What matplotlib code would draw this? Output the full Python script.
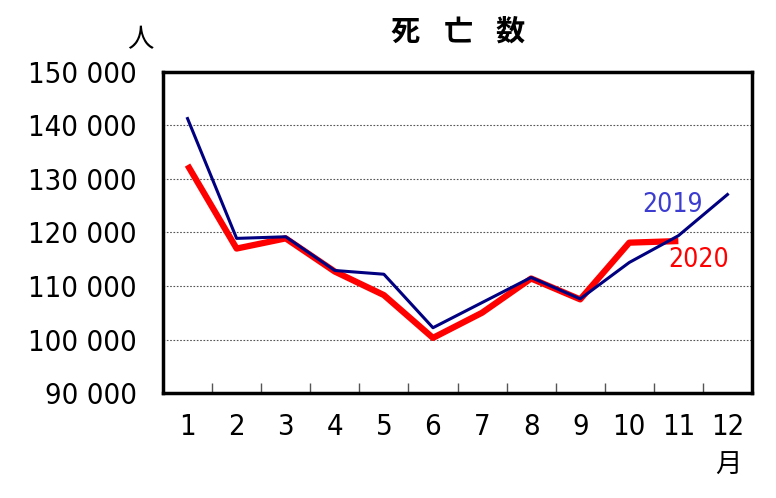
import numpy as np
import matplotlib.pyplot as plt
from matplotlib.ticker import FuncFormatter

months = ['1', '2', '3', '4', '5', '6', '7', '8', '9', '10', '11', '12']
deaths_2019 = [141300, 118900, 119200, 112900, 112200, 102200,
               106900, 111600, 107600, 114400, 119400, 127100]
deaths_2020 = [132600, 117000, 118900, 112700, 108300, 100300,
               105000, 111400, 107500, 118100, 118400]
yticks = [90000, 100000, 110000, 120000, 130000, 140000, 150000]
title_chars = ['死', '亡', '数']

num_font = ['DejaVu Sans']
jp_font = ['Noto Sans CJK JP', 'DejaVu Sans']

fig = plt.figure(figsize=(7.76, 4.98), dpi=100)
ax = fig.add_axes([163 / 776, 1 - 393 / 498, (752 - 163) / 776, (393 - 72) / 498])

x = np.arange(len(months))
ax.plot(x, deaths_2019, color='#000080', lw=2.2, zorder=3)
ax.plot(x[:len(deaths_2020)], deaths_2020, color='#ff0000', lw=4.5,
        solid_capstyle='butt', zorder=2)

ax.set_xlim(-0.5, len(months) - 0.5)
ax.set_ylim(yticks[0], yticks[-1])
ax.set_yticks(yticks)
ax.yaxis.set_major_formatter(FuncFormatter(lambda v, p: f'{int(v):,}'.replace(',', ' ')))
ax.grid(axis='y', color='#555555', ls=(0, (1.5, 1.5)), lw=0.8)

# month ticks sit between categories, labels centred
ax.set_xticks(x[:-1] + 0.5)
ax.set_xticklabels([])
ax.tick_params(axis='x', direction='in', length=7, color='#555555', width=1)
ax.tick_params(axis='y', direction='in', length=0, pad=19)
for i, m in enumerate(months):
    ax.text(i, 86200, m, ha='center', va='top', fontsize=21,
            family=num_font, stretch='condensed', clip_on=False)
for lab in ax.get_yticklabels():
    lab.set_fontsize(21)
    lab.set_family(num_font)
    lab.set_stretch('condensed')

for s in ax.spines.values():
    s.set_linewidth(2.5)
    s.set_color('black')

ax.text(9.26, 125200, '2019', color='#3c3cd0', fontsize=19, family=num_font,
        stretch='condensed', va='center')
ax.text(9.79, 114900, '2020', color='#ff0000', fontsize=19, family=num_font,
        stretch='condensed', va='center')

for cx, ch in zip([405, 458, 510], title_chars):
    fig.text(cx / 776, 1 - 32 / 498, ch, ha='center', va='center',
             fontsize=21, family=jp_font, weight='bold')
fig.text(140 / 776, 1 - 40 / 498, '人', ha='center', va='center',
         fontsize=19, family=jp_font)
fig.text(728 / 776, 1 - 465 / 498, '月', ha='center', va='center',
         fontsize=19, family=jp_font)

fig.savefig('out.png', dpi=100)
